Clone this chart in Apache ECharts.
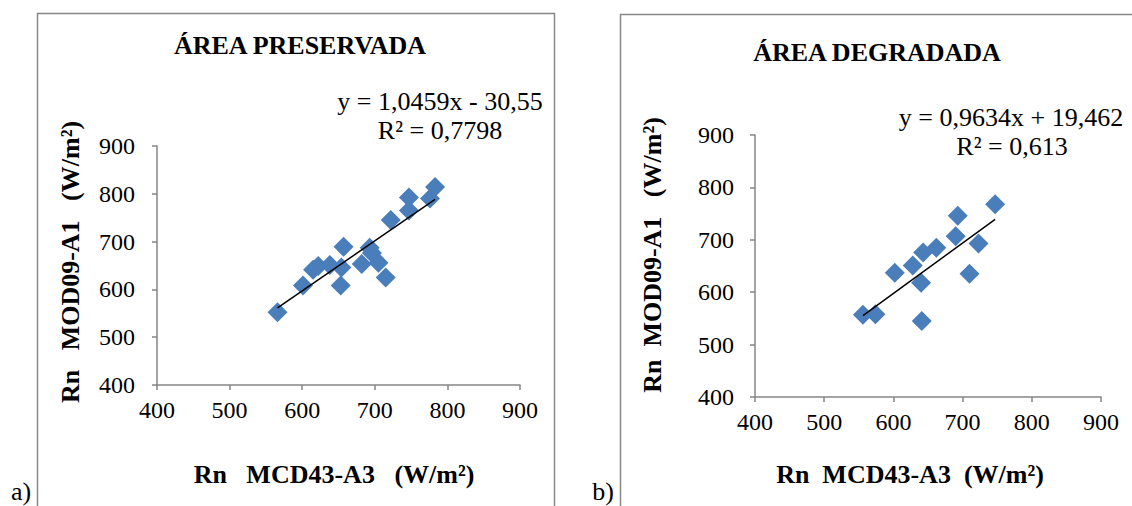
<!DOCTYPE html>
<html>
<head>
<meta charset="utf-8">
<script src="https://cdn.jsdelivr.net/npm/echarts@6/dist/echarts.min.js"></script>
<style>
html,body{margin:0;padding:0;background:#fff;}
#c{width:1132px;height:506px;}
</style>
</head>
<body>
<div id="c"></div>
<script>
// ---- Data ----
const titles = ['ÁREA PRESERVADA', 'ÁREA DEGRADADA'];
const panelLabels = ['a)', 'b)'];
const xAxisNames = ['Rn   MCD43-A3   (W/m²)', 'Rn  MCD43-A3  (W/m²)'];
const yAxisNames = ['Rn   MOD09-A1   (W/m²)', 'Rn  MOD09-A1   (W/m²)'];
const tickValues = [400, 500, 600, 700, 800, 900];

const presX = [566, 601, 615, 622, 638, 657, 653, 654, 682, 693, 696, 705, 715, 722, 747, 747, 776, 783];
const presY = [552, 608, 641, 649, 651, 689, 608, 646, 653, 687, 676, 656, 625, 745, 765, 792, 790, 814];
const degX = [556, 574, 602, 628, 640, 641, 643, 662, 690, 693, 710, 723, 747];
const degY = [557, 558, 637, 651, 618, 545, 676, 685, 707, 746, 635, 693, 768];

const slopes = [1.0459, 0.9634];
const intercepts = [-30.55, 19.462];
const eqLines = [['y = 1,0459x - 30,55', 'R² = 0,7798'], ['y = 0,9634x + 19,462', 'R² = 0,613']];

// ---- Build ----
const FONT = 'Liberation Serif';
const pts = (xs, ys) => xs.map((x, i) => [x, ys[i]]);
function trend(xs, k) {
  const lo = Math.min(...xs), hi = Math.max(...xs);
  return [[lo, slopes[k] * lo + intercepts[k]], [hi, slopes[k] * hi + intercepts[k]]];
}
const axMin = tickValues[0], axMax = tickValues[tickValues.length - 1], axInt = tickValues[1] - tickValues[0];
const axisLineStyle = { color: '#868686', width: 1.5 };
const tickLabel = (m) => ({ show: true, color: '#000', fontFamily: FONT, fontSize: 24, fontWeight: 'normal', margin: m });

function xAxis(idx) {
  return {
    type: 'value', gridIndex: idx, min: axMin, max: axMax, interval: axInt,
    axisLine: { show: true, onZero: false, lineStyle: axisLineStyle },
    axisTick: { show: true, inside: false, length: 5, lineStyle: axisLineStyle },
    splitLine: { show: false },
    axisLabel: tickLabel(13)
  };
}
function yAxis(idx, m) {
  return {
    type: 'value', gridIndex: idx, min: axMin, max: axMax, interval: axInt,
    axisLine: { show: true, onZero: false, lineStyle: axisLineStyle },
    axisTick: { show: true, inside: false, length: 5, lineStyle: axisLineStyle },
    splitLine: { show: false },
    axisLabel: tickLabel(m)
  };
}
function txt(x, y, s, size, bold, rot) {
  return {
    type: 'text', x: x, y: y, rotation: rot || 0, z: 10,
    style: { text: s, fill: '#000', fontFamily: FONT, fontSize: size,
             fontWeight: bold ? 'bold' : 'normal',
             align: 'center', verticalAlign: 'middle' }
  };
}

const chart = echarts.init(document.getElementById('c'), null, { renderer: 'svg' });
chart.setOption({
  backgroundColor: '#fff',
  animation: false,
  textStyle: { fontFamily: FONT, fontSize: 24, color: '#000' },
  grid: [
    { left: 157, top: 146, width: 363, height: 239 },
    { left: 755, top: 135, width: 346, height: 262 }
  ],
  xAxis: [xAxis(0), xAxis(1)],
  yAxis: [yAxis(0, 22), yAxis(1, 21)],
  series: [
    { type: 'scatter', xAxisIndex: 0, yAxisIndex: 0, symbol: 'diamond', symbolSize: 20,
      itemStyle: { color: '#4A7EBB', opacity: 1 }, data: pts(presX, presY) },
    { type: 'line', xAxisIndex: 0, yAxisIndex: 0, symbol: 'none', z: 3,
      lineStyle: { color: '#000', width: 1.5 }, data: trend(presX, 0) },
    { type: 'scatter', xAxisIndex: 1, yAxisIndex: 1, symbol: 'diamond', symbolSize: 20,
      itemStyle: { color: '#4A7EBB', opacity: 1 }, data: pts(degX, degY) },
    { type: 'line', xAxisIndex: 1, yAxisIndex: 1, symbol: 'none', z: 3,
      lineStyle: { color: '#000', width: 1.5 }, data: trend(degX, 1) }
  ],
  graphic: [
    { type: 'rect', shape: { x: 37.5, y: 13.5, width: 517, height: 500 },
      style: { fill: 'none', stroke: '#888', lineWidth: 1.5 } },
    { type: 'rect', shape: { x: 620.5, y: 14.5, width: 520, height: 500 },
      style: { fill: 'none', stroke: '#888', lineWidth: 1.5 } },
    txt(300, 45, titles[0], 26, true),
    txt(877, 52, titles[1], 26, true),
    txt(440, 101, eqLines[0][0], 26, false),
    txt(440, 130, eqLines[0][1], 26, false),
    txt(1011, 117, eqLines[1][0], 26, false),
    txt(1012, 146, eqLines[1][1], 26, false),
    txt(334, 474, xAxisNames[0], 26, true),
    txt(910, 474, xAxisNames[1], 26, true),
    txt(70, 262, yAxisNames[0], 26, true, Math.PI / 2),
    txt(652, 255, yAxisNames[1], 26, true, Math.PI / 2),
    txt(21, 491, panelLabels[0], 26, false),
    txt(603, 491, panelLabels[1], 26, false)
  ]
});
</script>
</body>
</html>
